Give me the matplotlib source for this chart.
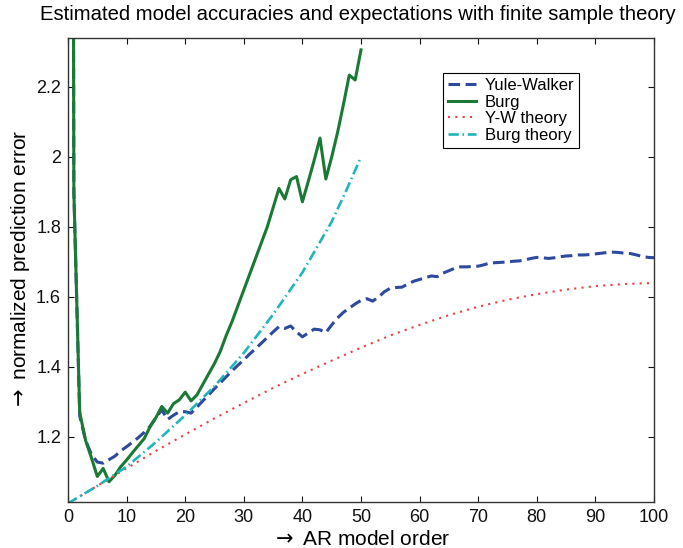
import matplotlib
matplotlib.use("Agg")
import matplotlib.pyplot as plt
import numpy as np

plt.rcParams['font.family'] = ['Liberation Sans', 'DejaVu Sans']

# measured model accuracies, orders 0..100 (Yule-Walker) and 0..50 (Burg)
yw_order = list(range(0, 101))
yw_pe = [10.0, 1.9, 1.26, 1.19, 1.15, 1.128, 1.125, 1.135, 1.145, 1.16,
         1.172, 1.185, 1.198, 1.213, 1.23, 1.255, 1.277, 1.25, 1.262, 1.272,
         1.272, 1.268, 1.285, 1.303, 1.32, 1.338, 1.355, 1.372, 1.389, 1.405,
         1.42, 1.437, 1.452, 1.468, 1.484, 1.5, 1.515, 1.51, 1.517, 1.5,
         1.486, 1.497, 1.508, 1.506, 1.498, 1.52, 1.54, 1.556, 1.568, 1.58,
         1.59, 1.595, 1.588, 1.6, 1.615, 1.625, 1.627, 1.628, 1.637, 1.645,
         1.65, 1.655, 1.66, 1.658, 1.668, 1.675, 1.682, 1.686, 1.686, 1.687,
         1.688, 1.692, 1.697, 1.698, 1.699, 1.7, 1.702, 1.703, 1.706, 1.71,
         1.713, 1.712, 1.71, 1.712, 1.715, 1.717, 1.718, 1.72, 1.72, 1.721,
         1.723, 1.725, 1.727, 1.728, 1.727, 1.725, 1.724, 1.72, 1.716, 1.713,
         1.712]

burg_order = list(range(0, 51))
burg_pe = [10.0, 1.9, 1.27, 1.19, 1.14, 1.087, 1.11, 1.072, 1.09, 1.115,
           1.134, 1.155, 1.175, 1.195, 1.229, 1.255, 1.287, 1.268, 1.295, 1.306,
           1.328, 1.303, 1.32, 1.35, 1.38, 1.41, 1.445, 1.49, 1.53, 1.575,
           1.62, 1.665, 1.71, 1.755, 1.8, 1.855, 1.91, 1.88, 1.935, 1.944,
           1.872, 1.93, 1.99, 2.054, 1.937, 2.0, 2.07, 2.15, 2.234, 2.22,
           2.306]

# finite sample theory
yw_th_order = [0, 5, 10, 15, 20, 25, 30, 35, 40, 45, 50, 55, 60, 65, 70,
               75, 80, 85, 90, 95, 100]
yw_th = [1.01, 1.06, 1.11, 1.16, 1.207, 1.253, 1.297, 1.34, 1.38, 1.418,
         1.455, 1.49, 1.52, 1.548, 1.572, 1.592, 1.608, 1.621, 1.631, 1.637,
         1.64]

burg_th_order = [0, 5, 10, 15, 20, 25, 30, 35, 40, 45, 47.5, 50]
burg_th = [1.01, 1.06, 1.115, 1.185, 1.262, 1.345, 1.44, 1.55, 1.67, 1.815,
           1.905, 2.0]

fig = plt.figure(figsize=(6.83, 5.48), dpi=100)
ax = fig.add_axes([68/683, 1-502/548, (654-68)/683, (502-38)/548])

ax.plot(yw_order, yw_pe, color='#2e4a9e', lw=2.2,
        linestyle=(0, (3.8, 1.8)), label='Yule-Walker')
ax.plot(burg_order, burg_pe, color='#1a7a35', lw=2.2, label='Burg')
ax.plot(yw_th_order, yw_th, color='#e8423f', lw=1.5,
        linestyle=(0, (1, 2.5)), label='Y-W theory')
ax.plot(burg_th_order, burg_th, color='#20b5b8', lw=1.9,
        linestyle=(0, (3.9, 1.4, 0.6, 1.4)), label='Burg theory')

ax.set_xlim(0, 100)
ax.set_ylim(1.014, 2.34)
ax.set_xticks(np.arange(0, 101, 10))
ax.set_yticks([1.2, 1.4, 1.6, 1.8, 2.0, 2.2])
ax.set_yticklabels(['1.2', '1.4', '1.6', '1.8', '2', '2.2'])
ax.tick_params(direction='in', top=True, right=True, length=4,
               labelsize=13, colors='#111111', pad=5)
for s in ax.spines.values():
    s.set_color('#333333')
    s.set_linewidth(1.0)

ax.set_xlabel(r'$\rightarrow$ AR model order', fontsize=15, labelpad=3)
ax.set_ylabel(r'$\rightarrow$ normalized prediction error', fontsize=15,
              labelpad=3)
fig.text(358/683, 1-15/548,
         'Estimated model accuracies and expectations with finite sample theory',
         ha='center', va='center', fontsize=14.6)

leg = ax.legend(loc='upper left', bbox_to_anchor=(443/683, 1-73/548),
                bbox_transform=fig.transFigure, borderaxespad=0,
                fancybox=False, framealpha=1, edgecolor='black',
                fontsize=12, handlelength=1.7, handletextpad=0.5,
                labelspacing=0.1, borderpad=0.3)
leg.get_frame().set_linewidth(0.8)

fig.savefig('out.png', dpi=100)
